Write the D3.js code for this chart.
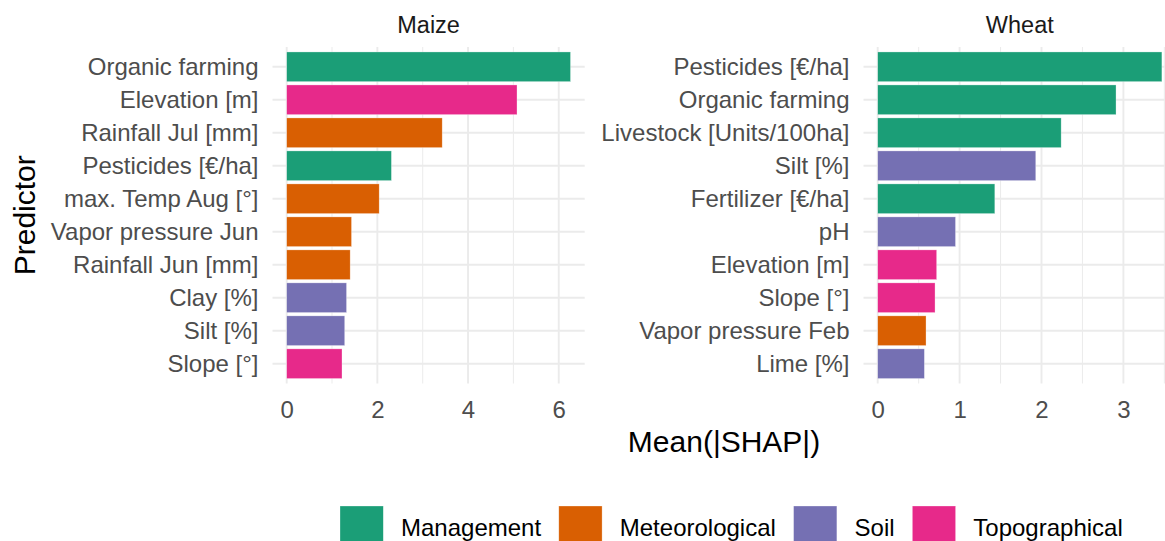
<!DOCTYPE html>
<html>
<head>
<meta charset="utf-8">
<script src="https://cdn.jsdelivr.net/npm/d3@7"></script>
<style>
  body { margin: 0; background: #fff; }
  svg { display: block; font-family: "Liberation Sans", Arial, sans-serif; }
</style>
</head>
<body>
<div id="chart"></div>
<script>
// ---- data ----
const groups = ["Management", "Meteorological", "Soil", "Topographical"];
const groupColors = ["#1B9E77", "#D95F02", "#7570B3", "#E7298A"];

const maizeVars = ["Organic farming", "Elevation [m]", "Rainfall Jul [mm]", "Pesticides [€/ha]",
  "max. Temp Aug [°]", "Vapor pressure Jun", "Rainfall Jun [mm]", "Clay [%]", "Silt [%]", "Slope [°]"];
const maizeValues = [6.26, 5.08, 3.43, 2.31, 2.04, 1.43, 1.40, 1.32, 1.28, 1.22];
const maizeGroups = ["Management", "Topographical", "Meteorological", "Management", "Meteorological",
  "Meteorological", "Meteorological", "Soil", "Soil", "Topographical"];
const maizeTicks = [0, 2, 4, 6];

const wheatVars = ["Pesticides [€/ha]", "Organic farming", "Livestock [Units/100ha]", "Silt [%]",
  "Fertilizer [€/ha]", "pH", "Elevation [m]", "Slope [°]", "Vapor pressure Feb", "Lime [%]"];
const wheatValues = [3.47, 2.91, 2.24, 1.93, 1.43, 0.95, 0.72, 0.70, 0.59, 0.57];
const wheatGroups = ["Management", "Management", "Management", "Soil", "Management", "Soil",
  "Topographical", "Topographical", "Meteorological", "Soil"];
const wheatTicks = [0, 1, 2, 3];

// ---- layout ----
const W = 1165, H = 541;
const panelTop = 47, panelBottom = 383.5;
const grid = "#EBEBEB";

const svg = d3.select("#chart").append("svg")
  .attr("width", W)
  .attr("height", H);

const color = d3.scaleOrdinal().domain(groups).range(groupColors);

function drawPanel(title, vars, values, grps, ticks, left, right) {
  const g = svg.append("g");
  const maxV = d3.max(values);
  const x = d3.scaleLinear().domain([-0.05 * maxV, 1.05 * maxV]).range([left, right]);
  // ggplot style discrete axis: 0.6 step expansion on each side, bars 0.9 wide
  const y = d3.scalePoint().domain(vars).range([panelTop, panelBottom]).padding(0.6);
  const step = y.step();

  // minor grid
  const minor = ticks.slice(0, -1).map((t, i) => (t + ticks[i + 1]) / 2);
  const lastMinor = ticks[ticks.length - 1] + (ticks[1] - ticks[0]) / 2;
  if (lastMinor <= x.domain()[1]) minor.push(lastMinor);
  g.selectAll(".minor").data(minor).join("line")
    .attr("x1", d => x(d)).attr("x2", d => x(d))
    .attr("y1", panelTop).attr("y2", panelBottom)
    .style("stroke", grid).style("stroke-width", 1);

  // major grid
  g.selectAll(".majx").data(ticks).join("line")
    .attr("x1", d => x(d)).attr("x2", d => x(d))
    .attr("y1", panelTop).attr("y2", panelBottom)
    .style("stroke", grid).style("stroke-width", 1.9);
  g.selectAll(".majy").data(vars).join("line")
    .attr("x1", left).attr("x2", right)
    .attr("y1", d => y(d)).attr("y2", d => y(d))
    .style("stroke", grid).style("stroke-width", 1.9);

  // bars
  g.selectAll(".bar").data(vars).join("rect")
    .attr("x", x(0))
    .attr("y", d => y(d) - step * 0.45)
    .attr("width", (d, i) => x(values[i]) - x(0))
    .attr("height", step * 0.9)
    .style("fill", (d, i) => color(grps[i]))
    .style("stroke", "rgba(255,255,255,0.5)")
    .style("stroke-width", 0.6);

  // y labels
  g.selectAll(".ylab").data(vars).join("text")
    .attr("x", left - 14)
    .attr("y", d => y(d))
    .attr("dy", "0.36em")
    .attr("text-anchor", "end")
    .text(d => d)
    .style("fill", "#4D4D4D")
    .style("font-size", "24px");

  // x tick labels
  const xAxis = g.append("g")
    .attr("transform", `translate(0,${panelBottom})`)
    .call(d3.axisBottom(x).tickValues(ticks).tickSize(0).tickPadding(17).tickFormat(d3.format("d")));
  xAxis.select(".domain").remove();
  xAxis.selectAll("text")
    .style("fill", "#4D4D4D")
    .style("font-size", "24px")
    .style("font-family", "Liberation Sans, Arial, sans-serif");

  // strip title
  g.append("text")
    .attr("x", (left + right) / 2)
    .attr("y", 33)
    .attr("text-anchor", "middle")
    .text(title)
    .style("fill", "#1A1A1A")
    .style("font-size", "23.5px");
}

drawPanel("Maize", maizeVars, maizeValues, maizeGroups, maizeTicks, 272.5, 584.7);
drawPanel("Wheat", wheatVars, wheatValues, wheatGroups, wheatTicks, 863.5, 1176.1);

// axis titles
svg.append("text")
  .attr("x", 724)
  .attr("y", 452)
  .attr("text-anchor", "middle")
  .text("Mean(|SHAP|)")
  .style("fill", "#000")
  .style("font-size", "30px");

svg.append("text")
  .attr("transform", `translate(35,${(panelTop + panelBottom) / 2}) rotate(-90)`)
  .attr("text-anchor", "middle")
  .text("Predictor")
  .style("fill", "#000")
  .style("font-size", "30px");

// legend
const legend = svg.append("g");
let lx = 340;
const keyS = 43.3, ky = 506;
groups.forEach(grp => {
  legend.append("rect")
    .attr("x", lx).attr("y", ky)
    .attr("width", keyS).attr("height", keyS)
    .style("fill", color(grp))
    .style("stroke", "rgba(255,255,255,0.5)")
    .style("stroke-width", 0.6);
  const t = legend.append("text")
    .attr("x", lx + keyS + 17.7)
    .attr("y", ky + keyS / 2)
    .attr("dy", "0.36em")
    .text(grp)
    .style("fill", "#000")
    .style("font-size", "24px");
  lx += keyS + 17.7 + t.node().getComputedTextLength() + 17.7;
});
</script>
</body>
</html>
